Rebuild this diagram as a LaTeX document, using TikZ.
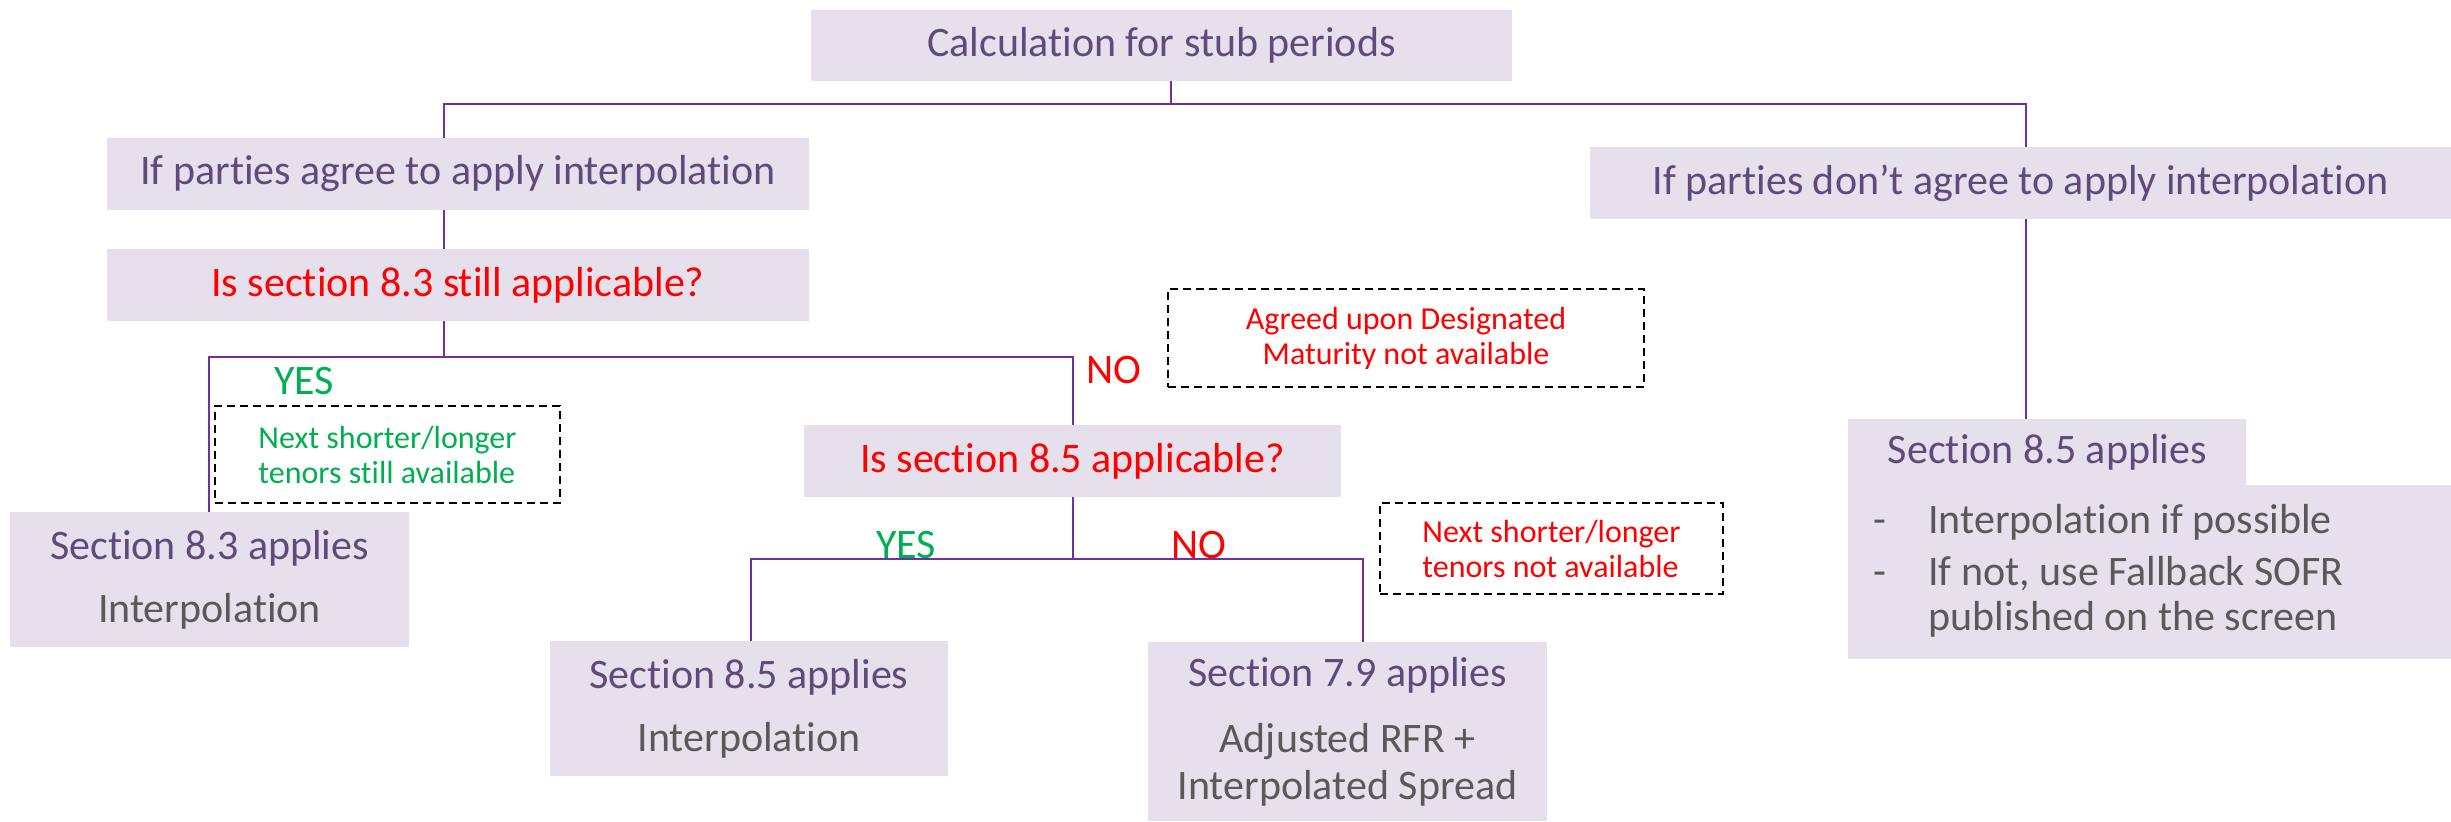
\documentclass[tikz,border=0pt]{standalone}
\usepackage{fontspec}
\setmainfont{Carlito}[Ligatures={NoCommon,NoContextual}, Contextuals=NoAlternate, RawFeature={-clig;-dlig}]
\definecolor{boxfill}{HTML}{E6E0EC}
\definecolor{titlepurple}{HTML}{604A7B}
\definecolor{textgray}{HTML}{595959}
\definecolor{linkpurple}{HTML}{7030A0}
\definecolor{yesgreen}{HTML}{00B050}
\newdimen\pxu
\pxu=0.5pt
\newcommand{\bigtext}{\fontsize{21}{31.5}\selectfont}
\newcommand{\smalltext}{\fontsize{16}{17.5}\selectfont}
\tikzset{
  pbox/.style={fill=boxfill, inner sep=0pt, align=center, font=\bigtext, text=titlepurple},
  link/.style={draw=linkpurple, line width=1.1pt},
  notebox/.style={draw=black, line width=1pt, dash pattern=on 4pt off 2.5pt, inner sep=0pt, font=\smalltext},
  answer/.style={anchor=base, inner sep=0pt, font=\bigtext}
}
\begin{document}
\begin{tikzpicture}[x=0.5pt, y=-0.5pt]
\useasboundingbox (0,0) rectangle (2451,821);

\node (calc) at (1161.5, 45) [pbox, minimum width=701\pxu, minimum height=71\pxu] {Calculation for stub periods};
\node (agree) at (458, 174) [pbox, minimum width=702\pxu, minimum height=72\pxu] {If parties agree to apply interpolation};
\node (q83) at (458, 285) [pbox, minimum width=702\pxu, minimum height=72\pxu, text=red] {Is section 8.3 still applicable?};
\node (disagree) at (2020.5, 183) [pbox, minimum width=861\pxu, minimum height=72\pxu] {If parties don’t agree to apply interpolation};
\node (q85) at (1072.5, 461) [pbox, minimum width=537\pxu, minimum height=72\pxu, text=red] {Is section 8.5 applicable?};

\node (s83) at (209.5, 579.5) [pbox, minimum width=399\pxu, minimum height=135\pxu] {Section 8.3 applies\\{\color{textgray}Interpolation}};
\node (s85a) at (749, 708.5) [pbox, minimum width=398\pxu, minimum height=135\pxu] {Section 8.5 applies\\{\color{textgray}Interpolation}};
\node (s79) at (1347.5, 731.5) [pbox, minimum width=399\pxu, minimum height=179\pxu, font=\fontsize{21}{23.5}\selectfont] {Section 7.9 applies\\[9.5pt]{\color{textgray}Adjusted RFR +}\\{\color{textgray}Interpolated Spread}};

\node (s85list) at (1848, 485) [pbox, anchor=north west, minimum width=603\pxu, minimum height=174\pxu] {};
\node (s85b) at (1848, 419) [pbox, anchor=north west, minimum width=398\pxu, minimum height=66\pxu] {Section 8.5 applies};
\node (s85items) at (1873, 504) [anchor=north west, inner sep=0pt, align=left, text=textgray, font=\fontsize{21}{22.5}\selectfont]
  {\makebox[27.5pt][l]{-}Interpolation if possible\\[3.5pt]\makebox[27.5pt][l]{-}If not, use Fallback SOFR\\\makebox[27.5pt][l]{}published on the screen};

\node (noteA) at (1406, 338) [notebox, minimum width=476\pxu, minimum height=98\pxu, align=center, text=red] {Agreed upon Designated\\Maturity not available};
\node (noteB) at (387.5, 454.5) [notebox, minimum width=345\pxu, minimum height=97\pxu, align=left, text=yesgreen] {Next shorter/longer\\tenors still available};
\node (noteC) at (1551.5, 548.5) [notebox, minimum width=343\pxu, minimum height=91\pxu, align=left, text=red] {Next shorter/longer\\tenors not available};

\node (yes1) at (304, 394) [answer, text=yesgreen] {YES};
\node (no1) at (1114, 383) [answer, text=red] {NO};
\node (yes2) at (906, 558) [answer, text=yesgreen] {YES};
\node (no2) at (1199, 558) [answer, text=red] {NO};

\coordinate (j0) at (1171, 104);
\coordinate (dl) at (444, 104);
\coordinate (dr) at (2026, 104);
\coordinate (y1) at (209, 357);
\coordinate (n1) at (1073, 357);
\coordinate (y2) at (751, 559);
\coordinate (n2) at (1363, 559);

\draw[link] (calc.south -| j0) -- (j0);
\draw[link] (agree.north -| dl) |- (dr) -- (disagree.north -| dr);
\draw[link] (agree.south -| dl) -- (q83.north -| dl);
\draw[link] (q83.south -| dl) -- (dl |- y1);
\draw[link] (s83.north -| y1) |- (n1) -- (q85.north -| n1);
\draw[link] (q85.south -| n1) -- (n1 |- y2);
\draw[link] (s85a.north -| y2) |- (n2) -- (s79.north -| n2);
\draw[link] (disagree.south -| dr) -- (s85b.north -| dr);
\end{tikzpicture}
\end{document}
